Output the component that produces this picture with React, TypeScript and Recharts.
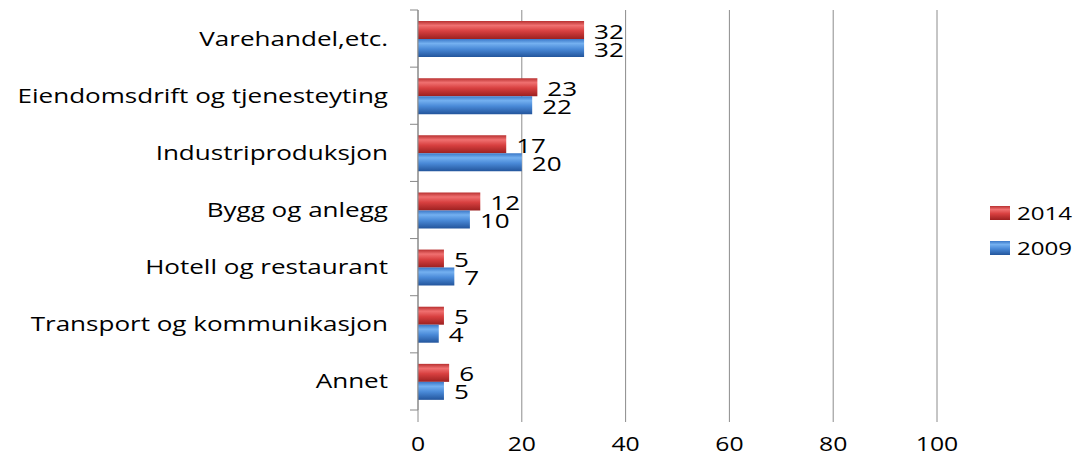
import { BarChart, Bar, XAxis, YAxis, CartesianGrid, LabelList } from 'recharts';

const categories = [
  'Varehandel,etc.',
  'Eiendomsdrift og tjenesteyting',
  'Industriproduksjon',
  'Bygg og anlegg',
  'Hotell og restaurant',
  'Transport og kommunikasjon',
  'Annet',
];
const values2014 = [32, 23, 17, 12, 5, 5, 6];
const values2009 = [32, 22, 20, 10, 7, 4, 5];
const xTicks = [0, 20, 40, 60, 80, 100];
const seriesNames = ['2014', '2009'];

const data = categories.map((name, i) => ({ name, y2014: values2014[i], y2009: values2009[i] }));

const FONT = '"Open Sans", sans-serif';
const STRETCH = 1.27;
const PLOT_TOP = 10;
const PLOT_HEIGHT = 400;

// Excel-ish text: a bit wide, so stretch horizontally
const WideText = ({ x, y, anchor, size, children }: any) => (
  <text
    transform={`translate(${x},${y}) scale(${STRETCH},1)`}
    textAnchor={anchor}
    fontSize={size}
    fontFamily={FONT}
    fill="#000"
  >
    {children}
  </text>
);

const CategoryTick = (props: any) => {
  const { x, y, payload, index } = props;
  const band = PLOT_HEIGHT / categories.length;
  const axisX = x + 30;
  return (
    <g>
      <line x1={axisX - 8} x2={axisX} y1={y - band / 2} y2={y - band / 2} stroke="#888" />
      {index === categories.length - 1 && (
        <line x1={axisX - 8} x2={axisX} y1={y + band / 2} y2={y + band / 2} stroke="#888" />
      )}
      <WideText x={x} y={y + 7} anchor="end" size={20.5}>
        {payload.value}
      </WideText>
    </g>
  );
};

const ValueTick = (props: any) => {
  const { x, y, payload } = props;
  return (
    <WideText x={x} y={y + 27} anchor="middle" size={19.5}>
      {payload.value}
    </WideText>
  );
};

const BarValue = (props: any) => {
  const { x, y, width, height, value } = props;
  return (
    <WideText x={x + width + 10} y={y + height / 2 + 8.5} anchor="start" size={20.5}>
      {value}
    </WideText>
  );
};

const LegendBox = () => (
  <svg width={100} height={70} style={{ position: 'absolute', left: 982, top: 196 }}>
    {seriesNames.map((label, i) => (
      <g key={label} transform={`translate(8,${10 + i * 35})`}>
        <rect width={20} height={14} fill={i === 0 ? 'url(#gradRed)' : 'url(#gradBlue)'} />
        <WideText x={27} y={14} anchor="start" size={19}>
          {label}
        </WideText>
      </g>
    ))}
  </svg>
);

const App = () => {
  return (
    <div style={{ position: 'absolute', left: 0, top: 0, width: 1082, height: 457, background: '#fff' }}>
      <svg width={0} height={0} style={{ position: 'absolute' }}>
        <defs>
          <linearGradient id="gradRed" x1="0" y1="0" x2="0" y2="1">
            <stop offset="0%" stopColor="#b83030" />
            <stop offset="25%" stopColor="#f07070" />
            <stop offset="55%" stopColor="#d84040" />
            <stop offset="100%" stopColor="#9c2020" />
          </linearGradient>
          <linearGradient id="gradBlue" x1="0" y1="0" x2="0" y2="1">
            <stop offset="0%" stopColor="#3a78c8" />
            <stop offset="25%" stopColor="#74b0f0" />
            <stop offset="55%" stopColor="#4a8ad8" />
            <stop offset="100%" stopColor="#23559c" />
          </linearGradient>
        </defs>
      </svg>
      <BarChart
        width={1082}
        height={457}
        data={data}
        layout="vertical"
        margin={{ top: PLOT_TOP, right: 145, bottom: 0, left: 0 }}
        barCategoryGap={11}
        barGap={0}
      >
        <CartesianGrid horizontal={false} stroke="#8c8c8c" />
        <XAxis
          type="number"
          domain={[0, 100]}
          ticks={xTicks}
          axisLine={false}
          tickSize={12}
          tickLine={{ stroke: '#8c8c8c' }}
          tickMargin={2}
          tick={<ValueTick />}
          height={47}
        />
        <YAxis
          type="category"
          dataKey="name"
          width={418}
          axisLine={{ stroke: '#888' }}
          tickLine={false}
          tickMargin={22}
          tickSize={8}
          tick={<CategoryTick />}
          interval={0}
        />
        <Bar dataKey="y2014" name={seriesNames[0]} fill="url(#gradRed)" isAnimationActive={false}>
          <LabelList dataKey="y2014" content={<BarValue />} />
        </Bar>
        <Bar dataKey="y2009" name={seriesNames[1]} fill="url(#gradBlue)" isAnimationActive={false}>
          <LabelList dataKey="y2009" content={<BarValue />} />
        </Bar>
      </BarChart>
      <LegendBox />
    </div>
  );
};

export default App;
